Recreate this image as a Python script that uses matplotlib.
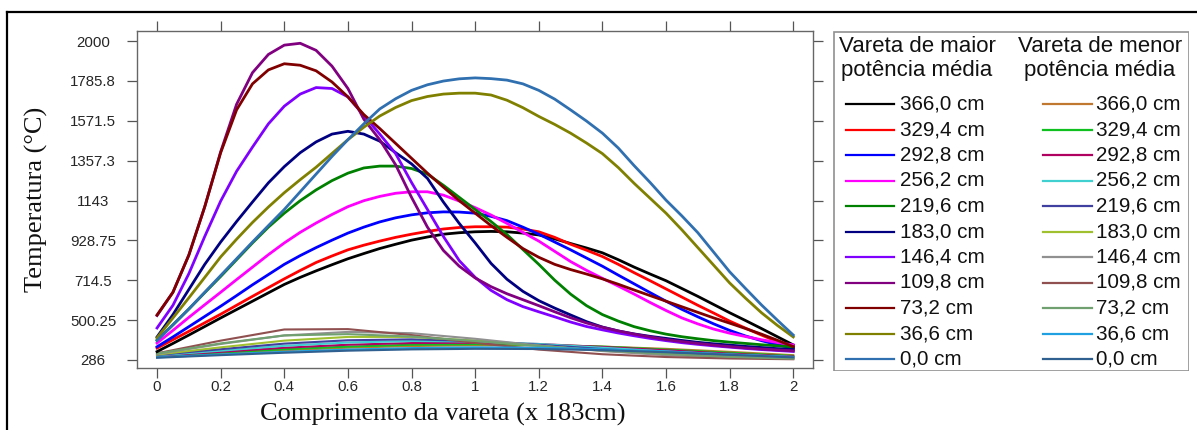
import matplotlib
matplotlib.use("Agg")
import matplotlib.pyplot as plt
from matplotlib.lines import Line2D
from matplotlib.patches import Rectangle

W, H = 1197, 430

# Normalised rod length (x 183 cm)
x_fine = [round(0.05 * i, 2) for i in range(41)]
x_coarse = [round(0.2 * i, 1) for i in range(11)]

heights = ["366,0 cm", "329,4 cm", "292,8 cm", "256,2 cm", "219,6 cm", "183,0 cm",
           "146,4 cm", "109,8 cm", "73,2 cm", "36,6 cm", "0,0 cm"]

# Rod with the highest mean power (temperature, deg C)
hi_366 = [331, 375, 420, 466, 512, 557, 602, 647, 692, 730, 765, 798, 830, 858, 885, 908, 930, 947, 962, 970,
          975, 977, 975, 968, 958, 937, 912, 888, 862, 825, 785, 748, 712, 670, 628, 584, 540, 498, 455, 411, 367]
hi_329 = [350, 395, 440, 486, 532, 580, 628, 675, 722, 767, 810, 845, 878, 903, 925, 945, 962, 977, 990, 998,
          1002, 1002, 1000, 990, 975, 945, 908, 876, 842, 800, 755, 712, 668, 624, 580, 538, 495, 457, 420, 385, 352]
hi_293 = [357, 410, 465, 520, 575, 632, 690, 745, 800, 847, 890, 930, 968, 1000, 1028, 1050, 1066, 1077, 1082, 1081,
          1075, 1058, 1035, 1000, 962, 920, 878, 834, 790, 742, 695, 648, 602, 558, 518, 480, 445, 415, 390, 368, 350]
hi_256 = [377, 445, 515, 583, 650, 718, 785, 852, 915, 972, 1022, 1068, 1110, 1142, 1165, 1182, 1190, 1190, 1172, 1140,
          1105, 1065, 1020, 972, 925, 870, 815, 768, 725, 683, 640, 595, 552, 512, 480, 452, 430, 412, 395, 380, 367]
hi_220 = [393, 475, 560, 648, 735, 825, 915, 1000, 1075, 1142, 1200, 1250, 1290, 1318, 1328, 1328, 1315, 1285, 1225, 1160,
          1095, 1030, 960, 880, 800, 715, 640, 578, 530, 495, 465, 443, 425, 411, 400, 390, 382, 375, 368, 362, 356]
hi_183 = [410, 530, 665, 800, 920, 1030, 1135, 1238, 1325, 1400, 1458, 1500, 1515, 1500, 1462, 1400, 1340, 1262, 1135, 1020,
          915, 805, 720, 655, 605, 565, 528, 492, 463, 442, 426, 413, 402, 391, 381, 373, 366, 359, 353, 347, 342]
hi_146 = [458, 580, 750, 950, 1140, 1300, 1430, 1555, 1650, 1715, 1750, 1745, 1700, 1600, 1500, 1395, 1240, 1095, 950, 820,
          730, 660, 610, 573, 545, 518, 490, 466, 448, 431, 416, 402, 390, 379, 370, 362, 355, 348, 342, 337, 332]
hi_110 = [525, 650, 850, 1110, 1405, 1660, 1830, 1928, 1978, 1988, 1950, 1865, 1745, 1580, 1470, 1335, 1160, 1000, 875, 790,
          727, 680, 642, 610, 578, 545, 513, 485, 462, 442, 425, 410, 396, 385, 375, 366, 358, 351, 345, 340, 335]
hi_073 = [528, 650, 850, 1110, 1400, 1630, 1770, 1845, 1878, 1870, 1840, 1780, 1700, 1605, 1530, 1450, 1370, 1290, 1215, 1142,
          1075, 1008, 945, 885, 838, 800, 772, 748, 722, 693, 662, 632, 602, 572, 542, 512, 484, 455, 425, 392, 358]
hi_037 = [405, 512, 620, 730, 840, 935, 1025, 1108, 1185, 1255, 1322, 1396, 1470, 1537, 1597, 1643, 1680, 1702, 1715, 1720,
          1720, 1710, 1682, 1642, 1595, 1552, 1505, 1452, 1395, 1320, 1235, 1155, 1075, 985, 890, 795, 700, 618, 540, 472, 410]
hi_000 = [390, 475, 560, 650, 740, 830, 920, 1008, 1095, 1190, 1285, 1380, 1470, 1555, 1635, 1690, 1735, 1765, 1785, 1797,
          1802, 1798, 1790, 1770, 1735, 1688, 1630, 1570, 1505, 1425, 1330, 1240, 1145, 1060, 970, 865, 760, 670, 582, 500, 420]

# Rod with the lowest mean power (temperature, deg C)
lo_366 = [305, 322, 338, 352, 361, 365, 364, 358, 346, 330, 312]
lo_329 = [307, 326, 344, 358, 368, 371, 368, 358, 342, 325, 308]
lo_293 = [309, 330, 352, 368, 377, 379, 372, 356, 338, 320, 305]
lo_256 = [311, 336, 362, 380, 388, 385, 372, 352, 332, 315, 302]
lo_220 = [313, 344, 374, 392, 397, 388, 368, 345, 324, 309, 299]
lo_183 = [315, 354, 390, 410, 410, 390, 362, 336, 316, 303, 296]
lo_146 = [318, 372, 418, 437, 430, 400, 364, 334, 312, 300, 293]
lo_110 = [322, 390, 450, 452, 420, 378, 342, 317, 302, 294, 290]
lo_073 = [321, 375, 418, 425, 412, 388, 362, 338, 318, 303, 293]
lo_037 = [300, 316, 330, 342, 350, 354, 352, 344, 332, 316, 302]
lo_000 = [298, 312, 325, 336, 343, 346, 345, 339, 328, 314, 300]

hi_series = [hi_366, hi_329, hi_293, hi_256, hi_220, hi_183, hi_146, hi_110, hi_073, hi_037, hi_000]
lo_series = [lo_366, lo_329, lo_293, lo_256, lo_220, lo_183, lo_146, lo_110, lo_073, lo_037, lo_000]

hi_colors = ["#000000", "#ff0000", "#0000ff", "#ff00ff", "#008000", "#000080",
             "#8000ff", "#800080", "#800000", "#808000", "#3070b0"]
lo_colors = ["#c07830", "#10c020", "#b00060", "#40d0d0", "#4040a0", "#a0c030",
             "#909090", "#905050", "#70a070", "#20a0e0", "#306090"]

y_ticks = [286, 500.25, 714.5, 928.75, 1143, 1357.3, 1571.5, 1785.8, 2000]
y_tick_labels = ["286", "500.25", "714.5", "928.75", "1143", "1357.3", "1571.5", "1785.8", "2000"]
x_ticks = [0, 0.2, 0.4, 0.6, 0.8, 1.0, 1.2, 1.4, 1.6, 1.8, 2.0]
x_tick_labels = ["0", "0.2", "0.4", "0.6", "0.8", "1", "1.2", "1.4", "1.6", "1.8", "2"]

SANS = ["Liberation Sans", "DejaVu Sans"]
SERIF = ["Liberation Serif", "DejaVu Serif"]

fig = plt.figure(figsize=(W / 100, H / 100), dpi=100)
fig.patch.set_facecolor("white")

# outer frame (top and left edges)
fig.add_artist(Line2D([7 / W, 1.0], [1 - 12 / H, 1 - 12 / H], color="black", lw=1.6,
                      transform=fig.transFigure))
fig.add_artist(Line2D([7 / W, 7 / W], [0.0, 1 - 12 / H], color="black", lw=1.6,
                      transform=fig.transFigure))

ax = fig.add_axes([137 / W, 1 - 368 / H, 676 / W, 337 / H])
for ys, c in zip(lo_series, lo_colors):
    ax.plot(x_coarse, ys, color=c, lw=1.5, solid_joinstyle="round")
for ys, c in zip(hi_series, hi_colors):
    ax.plot(x_fine, ys, color=c, lw=2.0, solid_joinstyle="round")

ax.set_xlim(-0.063, 2.062)
ax.set_ylim(243, 2054)
ax.set_xticks(x_ticks)
ax.set_xticklabels(x_tick_labels, fontfamily=SANS, fontsize=10.8, color="#262626")
ax.set_yticks(y_ticks)
ax.set_yticklabels(y_tick_labels, fontfamily=SANS, fontsize=10.8, color="#262626")
for lab in ax.get_yticklabels():
    lab.set_horizontalalignment("center")
ax.tick_params(axis="both", direction="out", length=7.2, width=0.9, color="#555555",
               top=True, right=True, labeltop=False, labelright=False)
ax.tick_params(axis="y", pad=24.5)
ax.tick_params(axis="x", pad=1.5)
for sp in ax.spines.values():
    sp.set_color("#666666")
    sp.set_linewidth(1.0)

ax.set_xlabel("Comprimento da vareta (x 183cm)", fontfamily=SERIF, fontsize=19, color="#111111")
ax.xaxis.set_label_coords(0.453, -0.1365)
ax.xaxis.label.set_verticalalignment("center")
ax.set_ylabel("Temperatura (°C)", fontfamily=SERIF, fontsize=19, color="#111111")
ax.yaxis.set_label_coords(-0.149, 0.5)
ax.yaxis.label.set_verticalalignment("center")

# legend panel with two columns
lg = fig.add_axes([833 / W, 1 - 371 / H, 356 / W, 340 / H])
lg.set_xlim(0, 356)
lg.set_ylim(340, 0)
lg.axis("off")
lg.add_patch(Rectangle((0.5, 0.5), 355, 339, fill=False, ec="#909090", lw=1.2))
headers = ["Vareta de maior\npotência média", "Vareta de menor\npotência média"]
for hx, htxt in zip([84, 267], headers):
    lg.text(hx, 27.5, htxt, ha="center", va="center", fontfamily=SANS, fontsize=16,
            linespacing=1.15, color="#111111")
for i, lab in enumerate(heights):
    yy = 73 + 25.5 * i
    lg.plot([13, 61], [yy, yy], color=hi_colors[i], lw=1.6)
    lg.text(67, yy, lab, ha="left", va="center", fontfamily=SANS, fontsize=14.9, color="#111111")
    lg.plot([210, 259], [yy, yy], color=lo_colors[i], lw=1.6)
    lg.text(263, yy, lab, ha="left", va="center", fontfamily=SANS, fontsize=14.9, color="#111111")

fig.savefig("out.png", dpi=100, facecolor="white")
